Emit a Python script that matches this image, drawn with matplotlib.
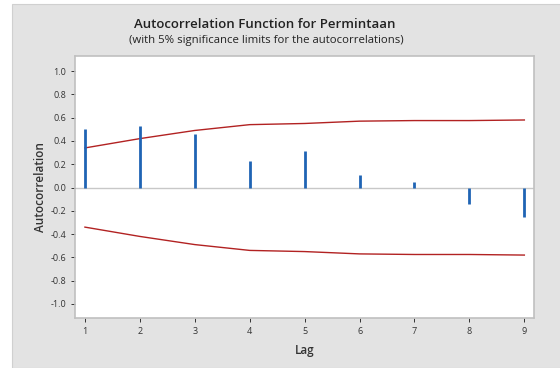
import matplotlib.pyplot as plt
from matplotlib.patches import Rectangle

lags = [1, 2, 3, 4, 5, 6, 7, 8, 9]
acf = [0.50, 0.53, 0.46, 0.23, 0.31, 0.11, 0.05, -0.14, -0.25]
limit = [0.34, 0.42, 0.49, 0.54, 0.55, 0.57, 0.575, 0.575, 0.58]
yticks = [1.0, 0.8, 0.6, 0.4, 0.2, 0.0, -0.2, -0.4, -0.6, -0.8, -1.0]

plt.rcParams['font.family'] = ['Open Sans', 'DejaVu Sans']

fig = plt.figure(figsize=(5.6, 3.68), dpi=100, facecolor='white')
fig.patches.append(Rectangle((12 / 560, 0), 1, 1 - 4 / 368, transform=fig.transFigure,
                             facecolor='#e3e3e3', edgecolor='#d0d0d0', lw=0.8, zorder=-5))

ax = fig.add_axes([0.134, 0.136, 0.820, 0.712])
ax.set_zorder(2)
ax.set_facecolor('white')

ax.axhline(0, color='#c8c8c8', lw=1, zorder=1)
ax.vlines(lags, 0, acf, color='#1f64b4', lw=2, zorder=3)
ax.plot(lags, limit, color='#b22222', lw=1, zorder=2)
ax.plot(lags, [-v for v in limit], color='#b22222', lw=1, zorder=2)

ax.set_xlim(0.82, 9.18)
ax.set_ylim(-1.12, 1.13)
ax.set_xticks(lags)
ax.set_yticks(yticks)
ax.set_yticklabels([f'{v:.1f}' for v in yticks])
ax.tick_params(labelsize=6.5, colors='#333333', length=3, width=0.7)
for s in ax.spines.values():
    s.set_color('#c0c0c0')
    s.set_linewidth(1.2)

ax.set_xlabel('Lag', fontsize=8.5, fontweight='semibold', color='#333333', labelpad=6)
ax.set_ylabel('Autocorrelation', fontsize=8.5, fontweight='semibold', color='#333333', labelpad=2)

fig.text(0.473, 1 - 24 / 368, 'Autocorrelation Function for Permintaan', ha='center', va='center',
         fontsize=9.5, fontweight='semibold', color='#222222', zorder=3)
fig.text(0.475, 1 - 41 / 368, '(with 5% significance limits for the autocorrelations)', ha='center',
         va='center', fontsize=8.2, color='#222222', zorder=3)

fig.savefig('out.png', dpi=100)
